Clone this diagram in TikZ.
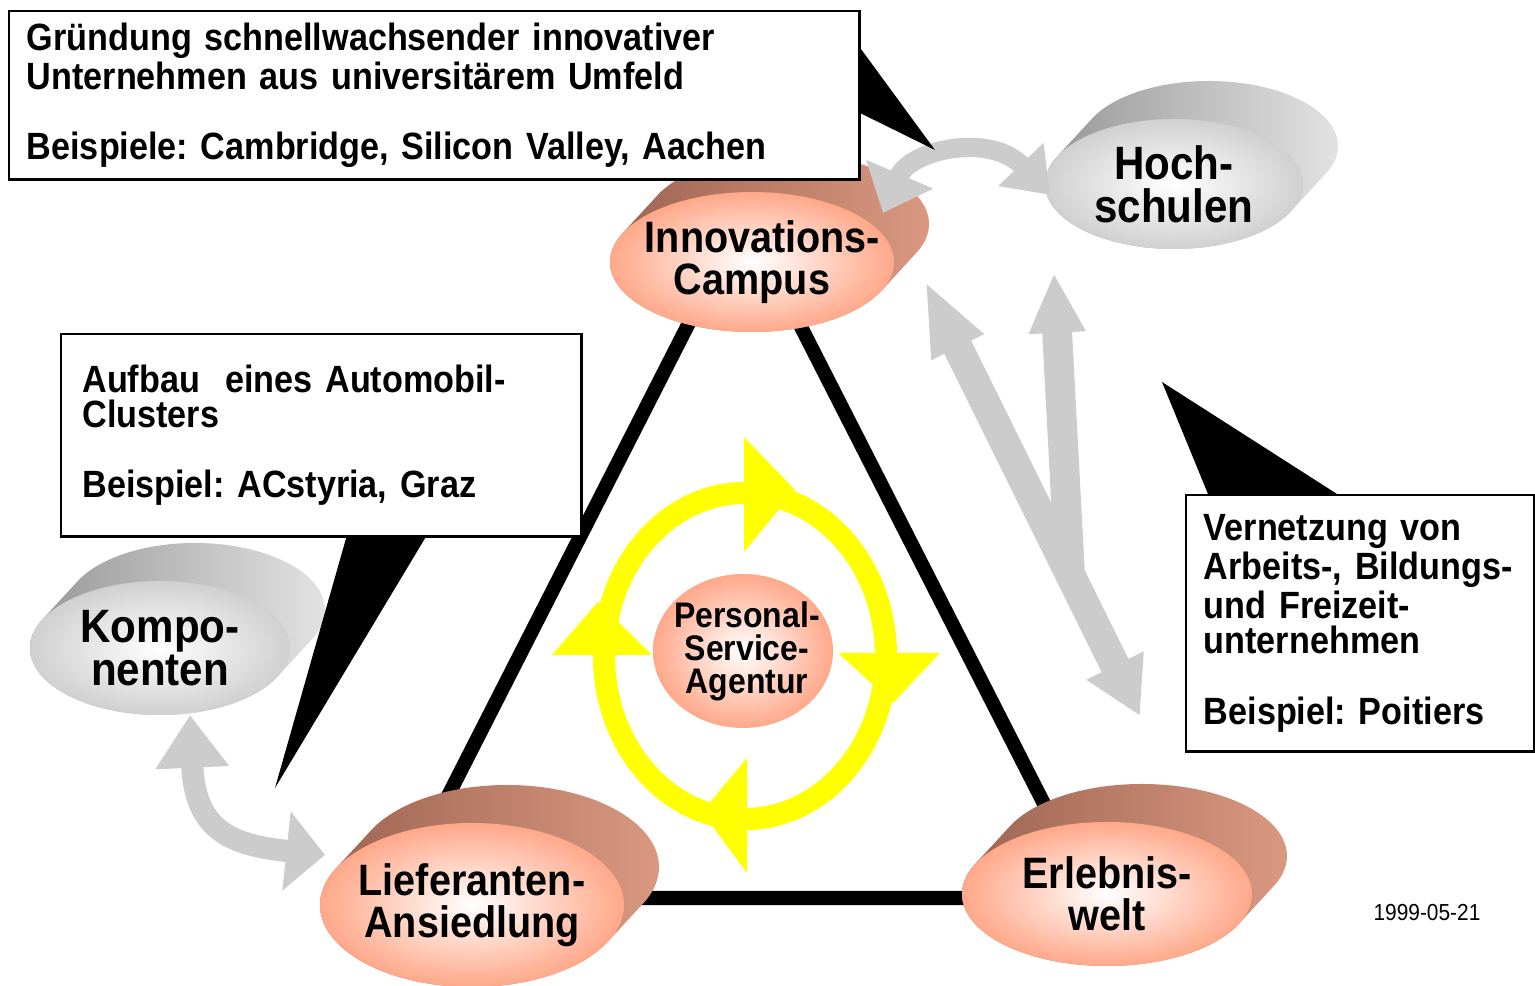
\documentclass[tikz,border=0pt]{standalone}
\usepackage{fontspec}
\setmainfont{Liberation Sans}[FakeStretch=0.9]
\usepackage{tikz}
\usetikzlibrary{shapes.geometric,arrows.meta}
\usepackage{xcolor}
\frenchspacing
\definecolor{salmonface}{HTML}{FFA88A}
\definecolor{salmonlo}{HTML}{9C6452}
\definecolor{salmonhi}{HTML}{DA9880}
\definecolor{greyface}{HTML}{D0D0D0}
\definecolor{greylo}{HTML}{979797}
\definecolor{greyhi}{HTML}{E2E2E2}
\definecolor{arrowgrey}{HTML}{CCCCCC}
\definecolor{ringyellow}{HTML}{FFFF00}
\newcommand{\disk}[7] {
    \shade[left color=#6lo, right color=#6hi] foreach \k in {0,...,24} {
        ({#2+35*\k/24}, {#3-38*\k/24}) ellipse [x radius=#4, y radius=#5]
    };
    \shade[inner color=white, outer color=#6face] (#2, #3) ellipse [x radius=#4, y radius=#5];
    \node[#6text] (#1) at (#2, #3) {#7};
}
\tikzset{
    salmontext/.style={align=center, inner sep=0pt, font=\fontsize{12.5}{12}\selectfont\bfseries},
    greytext/.style={align=center, inner sep=0pt, font=\fontsize{13.3}{12.3}\selectfont\bfseries},
    infobox/.style={draw, line width=0.7pt, fill=white, anchor=north west, align=left,
        inner xsep=5pt, font=\fontsize{10.8}{10}\selectfont\bfseries},
    triline/.style={line width=4pt},
    greyarrow/.style={draw=arrowgrey, line width=8.5pt},
    callout/.style={fill=black}
}

\begin{document}
\setlength{\lineskiplimit}{-5pt}
\begin{tikzpicture}[x=0.01cm, y=-0.01cm]
    \useasboundingbox (0, 0) rectangle (1535, 986);
    % triangle
    \coordinate (topc) at (744, 215);
    \coordinate (leftc) at (396, 898);
    \coordinate (rightc) at (1092, 898);
    \draw[triline] (topc) -- (leftc) -- (rightc) -- cycle;
    % cycle
    \draw[ringyellow, line width=6.3pt] (745, 656) ellipse [x radius=141, y radius=163];
    \fill[ringyellow] (744, 437) -- (795, 490) -- (744, 552) -- cycle;
    \fill[ringyellow] (838, 653) -- (940, 653) -- (893, 703) -- cycle;
    \fill[ringyellow] (747, 758) -- (747, 873) -- (702, 812) -- cycle;
    \fill[ringyellow] (552, 655) -- (652, 655) -- (598, 602) -- cycle;
    \shade[inner color=white, outer color=salmonface] (743, 651) ellipse [x radius=90, y radius=77];
    \node[salmontext, font=\fontsize{10.1}{9.4}\selectfont\bfseries] (psa) at (747, 651)
        {Personal-\\Service-\\Agentur};
    % disks
    \disk{campus}{752}{262}{142}{70}{salmon}{\hspace*{6pt}Innovations-\\Campus}
    \disk{hoch}{1174}{184}{129}{65}{grey}{Hoch-\\schulen}
    \disk{kompo}{160}{648}{130}{67}{grey}{Kompo-\\nenten}
    \disk{liefer}{472}{905}{152}{82}{salmon}{Lieferanten-\\Ansiedlung}
    \disk{erleb}{1107}{894}{145}{72}{salmon}{Erlebnis-\\welt}
    % grey arrows
    \coordinate (tipcampus) at (883, 213);
    \coordinate (tiphoch) at (1050, 195);
    \draw[greyarrow, line width=5.5pt, {Triangle[width=20pt,length=12pt]}-{Triangle[width=17pt,length=12pt]}]
        (tipcampus) .. controls (910, 150) and (990, 132) .. (tiphoch);
    \coordinate (tipul) at (925, 281);
    \coordinate (tipdn) at (1140, 716);
    \coordinate (tipup) at (1054, 273);
    \coordinate (fork) at (1070, 575);
    \draw[greyarrow, {Triangle[width=15pt,length=21pt]}-{Triangle[width=17pt,length=16pt]}] (tipul) -- (tipdn);
    \draw[greyarrow, -{Triangle[width=15pt,length=17pt]}] (fork) -- (tipup);
    \coordinate (tipkompo) at (190, 715);
    \coordinate (tipliefer) at (325, 855);
    \draw[greyarrow, line width=6.3pt, {Triangle[width=20pt,length=15pt]}-{Triangle[width=22pt,length=11pt]}]
        (tipkompo) .. controls (195, 830) and (230, 845) .. (tipliefer);
    % callouts
    \fill[callout] (858, 45) -- (935, 150) -- (858, 112) -- cycle;
    \fill[callout] (347, 535) -- (427, 535) -- (275, 788) -- cycle;
    \fill[callout] (1208, 494) -- (1337, 494) -- (1162, 382) -- cycle;
    % boxes
    \node[infobox, minimum width=8.5cm, minimum height=1.65cm, text width=8.5cm-10pt] (topbox) at (8, 10)
        {Gründung schnellwachsender innovativer\\Unternehmen aus universitärem Umfeld\\[10pt]Beispiele: Cambridge, Silicon Valley, Aachen};
    \node[infobox, minimum width=5.2cm, minimum height=2.02cm, text width=5.2cm-12pt, inner xsep=6pt] (leftbox) at (60, 333)
        {Aufbau\ \ eines Automobil-\\Clusters\\[10pt]Beispiel: ACstyria, Graz};
    \node[infobox, minimum width=3.48cm, minimum height=2.56cm, text width=3.48cm-10pt] (rightbox) at (1185, 494)
        {Vernetzung von\\Arbeits-, Bildungs-\\und Freizeit-\\unternehmen\\[10pt]Beispiel: Poitiers};
    \node[font=\fontsize{6.6}{8}\selectfont] (date) at (1427, 913) {1999-05-21};
\end{tikzpicture}
\end{document}
